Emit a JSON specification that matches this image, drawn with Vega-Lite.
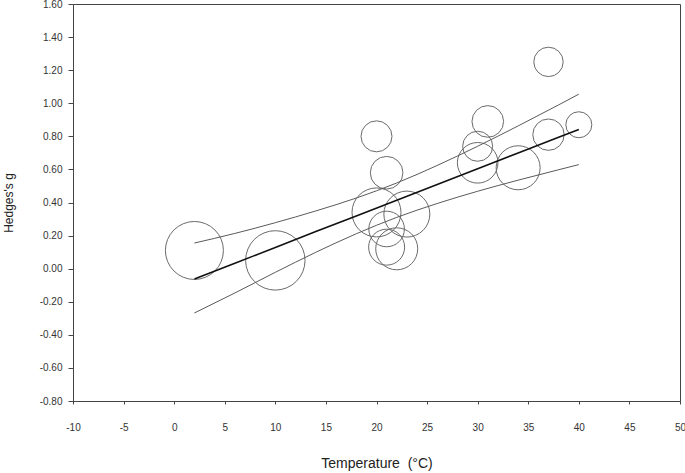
{
  "$schema": "https://vega.github.io/schema/vega-lite/v6.json",
  "autosize": "none",
  "width": 607,
  "height": 397,
  "padding": {"left": 73, "top": 4, "right": 5, "bottom": 72},
  "background": "white",
  "config": {
    "font": "Liberation Sans",
    "view": {"stroke": "#444", "strokeWidth": 1},
    "axis": {
      "grid": false,
      "domainColor": "#444",
      "tickColor": "#444",
      "labelColor": "#333",
      "titleColor": "#222",
      "labelFont": "Liberation Sans",
      "titleFont": "Liberation Sans",
      "labelFontSize": 10,
      "titleFontSize": 12,
      "titleFontWeight": "normal"
    }
  },
  "datasets": {
    "pts": [
      {"temp": 2, "g": 0.11, "weight": 8.41},
      {"temp": 10, "g": 0.05, "weight": 8.82},
      {"temp": 20, "g": 0.80, "weight": 2.40},
      {"temp": 21, "g": 0.58, "weight": 2.66},
      {"temp": 20, "g": 0.34, "weight": 6.00},
      {"temp": 23, "g": 0.33, "weight": 5.29},
      {"temp": 21, "g": 0.24, "weight": 3.17},
      {"temp": 21, "g": 0.13, "weight": 3.24},
      {"temp": 22, "g": 0.12, "weight": 4.41},
      {"temp": 37, "g": 1.25, "weight": 2.16},
      {"temp": 31, "g": 0.89, "weight": 2.50},
      {"temp": 30, "g": 0.74, "weight": 2.25},
      {"temp": 30, "g": 0.64, "weight": 4.12},
      {"temp": 34, "g": 0.61, "weight": 4.84},
      {"temp": 37, "g": 0.81, "weight": 2.46},
      {"temp": 40, "g": 0.87, "weight": 1.69}
    ],
    "fit": [
      {"temp": 2, "fitted": -0.062, "upper": 0.155, "lower": -0.268},
      {"temp": 6, "fitted": 0.033, "upper": 0.213, "lower": -0.147},
      {"temp": 10, "fitted": 0.128, "upper": 0.278, "lower": -0.022},
      {"temp": 14, "fitted": 0.224, "upper": 0.349, "lower": 0.099},
      {"temp": 18, "fitted": 0.319, "upper": 0.427, "lower": 0.211},
      {"temp": 22, "fitted": 0.414, "upper": 0.518, "lower": 0.310},
      {"temp": 26, "fitted": 0.509, "upper": 0.624, "lower": 0.394},
      {"temp": 30, "fitted": 0.604, "upper": 0.740, "lower": 0.468},
      {"temp": 34, "fitted": 0.699, "upper": 0.863, "lower": 0.535},
      {"temp": 38, "fitted": 0.794, "upper": 0.990, "lower": 0.598},
      {"temp": 40, "fitted": 0.842, "upper": 1.055, "lower": 0.629}
    ]
  },
  "layer": [
    {
      "data": {"name": "pts"},
      "mark": {"type": "point", "shape": "circle", "filled": false, "stroke": "#6a6a6a", "strokeWidth": 1, "opacity": 1},
      "encoding": {
        "x": {
          "field": "temp", "type": "quantitative",
          "scale": {"domain": [-10, 50], "nice": false, "zero": false},
          "axis": {
            "title": "Temperature\u00a0 (°C)",
            "titleFontSize": 14,
            "values": [-10, -5, 0, 5, 10, 15, 20, 25, 30, 35, 40, 45, 50],
            "tickCount": 20,
            "labelExpr": "replace(format(datum.value, 'd'), '\u2212', '-')",
            "labelOverlap": false,
            "labelFlush": false,
            "tickSize": 3,
            "labelPadding": 18,
            "titlePadding": 24
          }
        },
        "y": {
          "field": "g", "type": "quantitative",
          "scale": {"domain": [-0.8, 1.6], "nice": false, "zero": false},
          "axis": {
            "title": "Hedges's g",
            "values": [-0.8, -0.6, -0.4, -0.2, 0, 0.2, 0.4, 0.6, 0.8, 1.0, 1.2, 1.4, 1.6],
            "tickCount": 20,
            "labelExpr": "replace(format(datum.value, '.2f'), '\u2212', '-')",
            "labelOverlap": false,
            "labelFlush": false,
            "tickSize": 5,
            "labelPadding": 6,
            "titlePadding": 24
          }
        },
        "size": {
          "field": "weight", "type": "quantitative",
          "scale": {"type": "linear", "domain": [0, 10], "range": [0, 4000], "zero": true},
          "legend": null
        }
      }
    },
    {
      "data": {"name": "fit"},
      "mark": {"type": "line", "color": "#5a5a5a", "strokeWidth": 1, "interpolate": "monotone"},
      "encoding": {
        "x": {"field": "temp", "type": "quantitative"},
        "y": {"field": "upper", "type": "quantitative"}
      }
    },
    {
      "data": {"name": "fit"},
      "mark": {"type": "line", "color": "#5a5a5a", "strokeWidth": 1, "interpolate": "monotone"},
      "encoding": {
        "x": {"field": "temp", "type": "quantitative"},
        "y": {"field": "lower", "type": "quantitative"}
      }
    },
    {
      "data": {"name": "fit"},
      "mark": {"type": "line", "color": "#111", "strokeWidth": 1.6},
      "encoding": {
        "x": {"field": "temp", "type": "quantitative"},
        "y": {"field": "fitted", "type": "quantitative"}
      }
    }
  ]
}
